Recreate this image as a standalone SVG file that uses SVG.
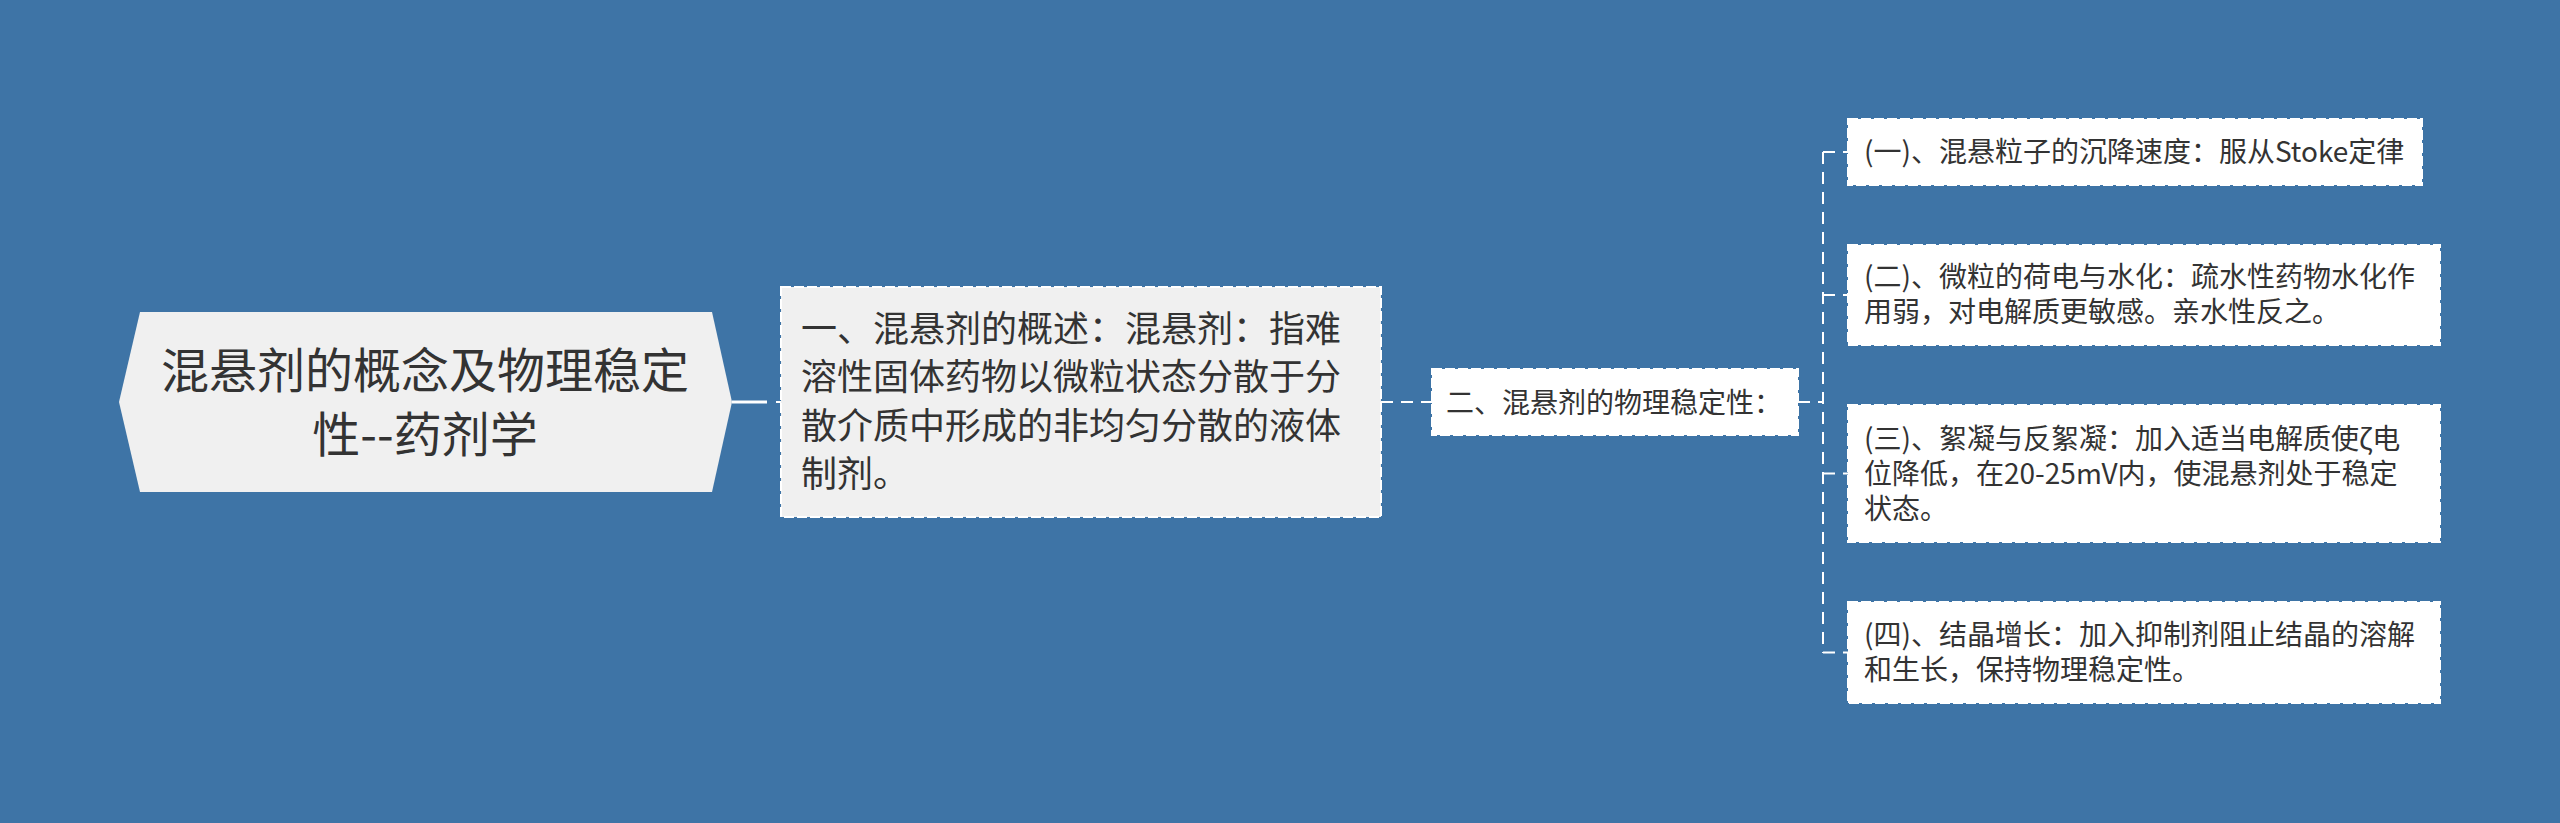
<svg xmlns="http://www.w3.org/2000/svg" width="2560" height="823" viewBox="0 0 2560 823">
<style>
.t{font-family:"Noto Sans CJK SC","Noto Sans",sans-serif;fill:#333333}
.box{stroke:#ffffff;stroke-width:2;stroke-dasharray:10 3}
.conn{fill:none;stroke:#ffffff;stroke-width:2;stroke-dasharray:12 8}
</style>
<rect x="0" y="0" width="2560" height="823" fill="#3e74a6"/>
<g id="connectors">
<path d="M732 402 H767" fill="none" stroke="#ffffff" stroke-width="3"/>
<path d="M776 402 H782" fill="none" stroke="#ffffff" stroke-width="2"/>
<path class="conn" d="M1381 402 H1432"/>
<path class="conn" d="M1798 402 H1823"/>
<path class="conn" d="M1823 152 V653"/>
<path class="conn" d="M1823 152 H1848"/>
<path class="conn" d="M1823 295 H1848"/>
<path class="conn" d="M1823 473.5 H1848"/>
<path class="conn" d="M1823 652.5 H1848"/>
</g>
<g id="root">
<polygon points="119,402 140,312 712,312 732,402 712,492 140,492" fill="#f0f0f0"/>
<text class="t" font-size="48" text-anchor="middle"><tspan x="425" y="388">混悬剂的概念及物理稳定</tspan><tspan x="425" y="452">性--药剂学</tspan></text>
</g>
<g id="node1">
<rect class="box" x="781" y="287" width="600" height="230" fill="#f0f0f0"/>
<text class="t" font-size="36"><tspan x="801" y="342">一、混悬剂的概述：混悬剂：指难</tspan><tspan x="801" y="390">溶性固体药物以微粒状态分散于分</tspan><tspan x="801" y="439">散介质中形成的非均匀分散的液体</tspan><tspan x="801" y="487">制剂。</tspan></text>
</g>
<g id="node2">
<rect class="box" x="1432" y="369" width="366" height="66" fill="#ffffff"/>
<text class="t" font-size="28" x="1446" y="413">二、混悬剂的物理稳定性：</text>
</g>
<g id="node3a">
<rect class="box" x="1848" y="119" width="574" height="66" fill="#ffffff"/>
<text class="t" font-size="28" x="1864" y="162">(一)、混悬粒子的沉降速度：服从Stoke定律</text>
</g>
<g id="node3b">
<rect class="box" x="1848" y="245" width="592" height="100" fill="#ffffff"/>
<text class="t" font-size="28"><tspan x="1864" y="287">(二)、微粒的荷电与水化：疏水性药物水化作</tspan><tspan x="1864" y="322">用弱，对电解质更敏感。亲水性反之。</tspan></text>
</g>
<g id="node3c">
<rect class="box" x="1848" y="405" width="592" height="137" fill="#ffffff"/>
<text class="t" font-size="28"><tspan x="1864" y="449">(三)、絮凝与反絮凝：加入适当电解质使ζ电</tspan><tspan x="1864" y="484">位降低，在20-25mV内，使混悬剂处于稳定</tspan><tspan x="1864" y="519">状态。</tspan></text>
</g>
<g id="node3d">
<rect class="box" x="1848" y="602" width="592" height="101" fill="#ffffff"/>
<text class="t" font-size="28"><tspan x="1864" y="645">(四)、结晶增长：加入抑制剂阻止结晶的溶解</tspan><tspan x="1864" y="680">和生长，保持物理稳定性。</tspan></text>
</g>
</svg>
